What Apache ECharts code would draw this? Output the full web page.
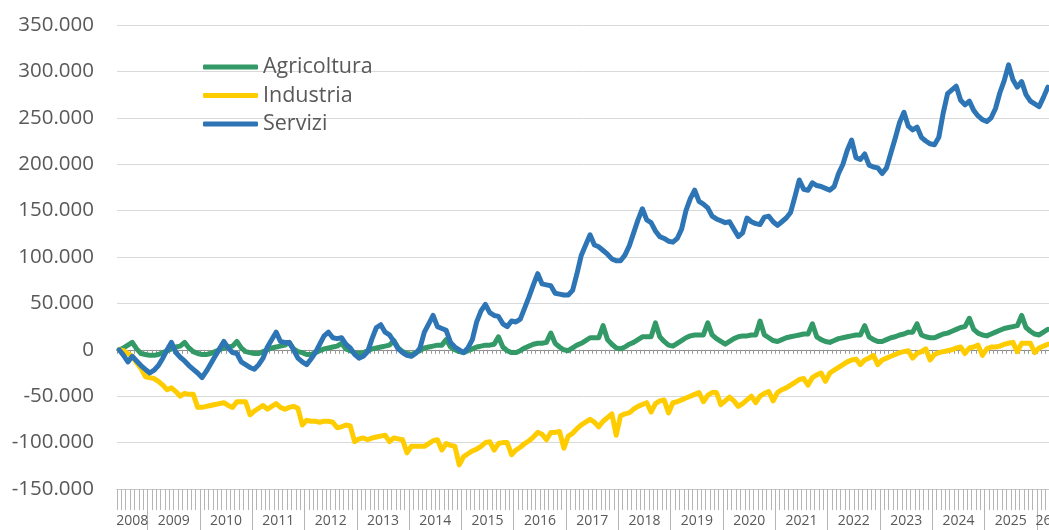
<!DOCTYPE html>
<html>
<head>
<meta charset="utf-8">
<script src="https://cdn.jsdelivr.net/npm/echarts@6/dist/echarts.min.js"></script>
<style>
  html, body { margin: 0; padding: 0; background: #fff; }
  #chart { width: 1049px; height: 530px; }
</style>
</head>
<body>
<div id="chart"></div>
<script>
// serie mensili (migliaia), da giugno 2008 a marzo 2026
const anni = ['2008', '2009', '2010', '2011', '2012', '2013', '2014', '2015', '2016',
  '2017', '2018', '2019', '2020', '2021', '2022', '2023', '2024', '2025', '2026']
const primoMese = 6
const ultimoMese = 3
// etichette degli anni sull'asse (2026 e' tagliato nel grafico)
const etichetteAnni = ['2008', '2009', '2010', '2011', '2012', '2013', '2014', '2015', '2016',
  '2017', '2018', '2019', '2020', '2021', '2022', '2023', '2024', '2025', '26']

const agricoltura = [
  0, 2, 5, 8, 1, -4, -5,
  -6, -6, -5, -3, -1, 1, 3, 4, 8, 2, -2, -4,
  -5, -5, -4, -2, 0, 2, 3, 4, 9, 2, -2, -3,
  -4, -4, -2, 0, 2, 3, 4, 5, 8, 1, -2, -3,
  -5, -5, -3, -1, 1, 2, 3, 4, 7, 1, -1, -3,
  -4, -3, -1, 1, 2, 3, 4, 5, 10, 2, -2, -4,
  -5, -3, -1, 2, 3, 4, 5, 5, 11, 3, 0, -2,
  -3, -1, 1, 3, 4, 5, 5, 6, 14, 3, -1, -3,
  -3, -1, 2, 4, 6, 7, 7, 8, 18, 7, 3, 0,
  -1, 2, 5, 7, 10, 13, 13, 13, 26, 11, 6, 2,
  1, 3, 6, 8, 11, 14, 14, 14, 29, 14, 9, 5,
  4, 7, 10, 13, 15, 16, 16, 16, 29, 16, 12, 9,
  6, 9, 12, 14, 15, 15, 16, 16, 31, 16, 13, 10,
  9, 11, 13, 14, 15, 16, 17, 17, 28, 14, 11, 9,
  8, 10, 12, 13, 14, 15, 16, 16, 26, 14, 11, 9,
  9, 11, 13, 14, 16, 17, 19, 19, 28, 16, 14, 13,
  13, 15, 17, 18, 20, 22, 24, 25, 34, 22, 18, 16,
  15, 17, 19, 21, 23, 24, 25, 26, 37, 24, 20, 17,
  16, 19, 22
]

const industria = [
  0, -1, -4, -7, -14, -20, -29,
  -30, -31, -34, -38, -43, -41, -45, -50, -47, -48, -48, -62,
  -62, -61, -60, -59, -58, -57, -60, -62, -56, -56, -56, -70,
  -66, -63, -60, -64, -61, -58, -62, -64, -62, -61, -63, -81,
  -76, -77, -77, -78, -77, -77, -78, -84, -83, -81, -82, -99,
  -96, -95, -97, -95, -94, -93, -92, -99, -95, -96, -97, -111,
  -104, -104, -104, -104, -101, -98, -97, -108, -101, -103, -104, -124,
  -115, -112, -109, -107, -104, -100, -99, -108, -101, -100, -100, -113,
  -108, -105, -101, -98, -94, -89, -91, -97, -89, -89, -88, -106,
  -93, -90, -85, -81, -78, -75, -78, -83, -77, -73, -69, -92,
  -71, -69, -68, -64, -61, -59, -57, -67, -58, -55, -54, -68,
  -57, -56, -54, -52, -50, -48, -46, -56, -49, -46, -46, -59,
  -55, -51, -55, -61, -58, -54, -50, -57, -50, -47, -45, -55,
  -46, -43, -41, -38, -35, -32, -31, -38, -30, -27, -25, -34,
  -25, -22, -19, -16, -13, -11, -10, -16, -11, -9, -6, -16,
  -11, -9, -7, -5, -3, -2, -1, -9, -4, -2, 1, -11,
  -5, -3, -2, -1, 0, 2, 3, -4, 2, 3, 5, -6,
  1, 3, 3, 4, 6, 7, 8, -2, 7, 7, 7, -3,
  2, 4, 6
]

const servizi = [
  0, -6, -13, -7, -12, -17, -21,
  -25, -22, -17, -9, 0, 8, -3, -8, -12, -17, -21, -25,
  -30, -23, -15, -7, 1, 9, 2, -3, -4, -13, -16, -19,
  -21, -16, -9, 3, 11, 19, 9, 8, 8, 0, -9, -13,
  -16, -10, -3, 6, 15, 19, 13, 12, 13, 6, 2, -5,
  -9, -7, -2, 12, 24, 27, 19, 16, 9, 1, -3, -6,
  -7, -4, 2, 19, 28, 37, 25, 23, 21, 8, 3, 0,
  -3, 2, 11, 30, 42, 49, 40, 37, 36, 28, 25, 31,
  30, 33, 45, 57, 70, 82, 71, 70, 69, 61, 60, 59,
  59, 64, 82, 102, 113, 124, 113, 111, 107, 103, 98, 96,
  96, 102, 112, 126, 140, 152, 140, 137, 128, 122, 120, 117,
  116, 120, 130, 150, 163, 172, 160, 157, 153, 144, 141, 139,
  137, 138, 130, 122, 126, 142, 138, 136, 135, 143, 144, 138,
  134, 138, 142, 148, 165, 183, 173, 172, 180, 177, 176, 174,
  172, 176, 190, 200, 215, 226, 207, 205, 211, 199, 197, 196,
  190, 196, 212, 228, 245, 256, 241, 237, 240, 229, 225, 222,
  221, 229, 255, 276, 280, 284, 269, 264, 268, 258, 252, 248,
  246, 250, 260, 277, 290, 307, 291, 283, 289, 275, 268, 265,
  262, 272, 283
]

// categorie mensili e posizione delle etichette degli anni
const mesi = []
const etichetta = {}
anni.forEach((anno, k) => {
  const da = k === 0 ? primoMese : 1
  const a = k === anni.length - 1 ? ultimoMese : 12
  const inizio = mesi.length
  for (let m = da; m <= a; m++) {
    mesi.push(anno + '-' + String(m).padStart(2, '0'))
  }
  const n = a - da + 1
  if (n === 12) {
    etichetta[inizio + 5] = '{p|' + etichetteAnni[k] + '}'
  } else {
    etichetta[inizio + Math.floor(n / 2)] = '{c|' + etichetteAnni[k] + '}'
  }
})

function formatoIt (v) {
  if (v === 0) return '0'
  const s = String(Math.abs(v * 1000)).replace(/\B(?=(\d{3})+(?!\d))/g, '.')
  return (v < 0 ? '-' : '') + s
}

const testo = '#595959'
const font = 'Open Sans'

const chart = echarts.init(document.getElementById('chart'))
chart.setOption({
  animation: false,
  textStyle: { fontFamily: font },
  grid: { left: 117, width: 933, top: 25, height: 464, containLabel: false, outerBoundsMode: 'none' },
  legend: {
    orient: 'vertical',
    left: 198,
    top: 51,
    icon: 'roundRect',
    itemWidth: 55,
    itemHeight: 5,
    itemGap: 6.5,
    textStyle: { fontSize: 21.5, color: testo, fontFamily: font },
    data: ['Agricoltura', 'Industria', 'Servizi']
  },
  xAxis: [{
    type: 'category',
    data: mesi,
    position: 'bottom',
    axisLine: { onZero: true, lineStyle: { color: '#8c8c8c', width: 1 } },
    axisTick: { show: true, interval: 0, length: 4, lineStyle: { color: '#9a9a9a' } },
    axisLabel: { show: false },
    splitLine: { show: false }
  }, {
    type: 'category',
    data: mesi,
    position: 'bottom',
    axisLine: { onZero: false, lineStyle: { color: '#c8c8c8' } },
    axisTick: { show: true, interval: 0, length: 21, lineStyle: { color: '#b5b5b5' } },
    axisLabel: {
      show: true,
      interval: (i) => etichetta[i] !== undefined,
      formatter: (v, i) => etichetta[i] || '',
      margin: 25,
      color: testo,
      fontSize: 14,
      fontFamily: font,
      rich: {
        p: { fontSize: 14, color: testo, fontFamily: font, padding: [0, 0, 0, 4.4] },
        c: { fontSize: 14, color: testo, fontFamily: font }
      }
    },
    splitLine: { show: false }
  }, {
    type: 'category',
    data: mesi,
    position: 'bottom',
    axisLine: { show: false, onZero: false },
    axisTick: {
      show: true,
      interval: (i, v) => v.slice(5) === '01',
      length: 41,
      lineStyle: { color: '#b5b5b5' }
    },
    axisLabel: { show: false },
    splitLine: { show: false }
  }],
  yAxis: {
    type: 'value',
    min: -150,
    max: 350,
    interval: 50,
    axisLine: { show: false },
    axisTick: { show: false },
    axisLabel: { margin: 23, color: testo, fontSize: 20.5, fontFamily: font, formatter: formatoIt },
    splitLine: { lineStyle: { color: '#d9d9d9', width: 1 } }
  },
  series: [{
    name: 'Agricoltura',
    type: 'line',
    data: agricoltura,
    symbol: 'none',
    color: '#339966',
    lineStyle: { width: 5, color: '#339966', cap: 'round', join: 'round' }
  }, {
    name: 'Industria',
    type: 'line',
    data: industria,
    symbol: 'none',
    color: '#ffcc00',
    lineStyle: { width: 5, color: '#ffcc00', cap: 'round', join: 'round' }
  }, {
    name: 'Servizi',
    type: 'line',
    data: servizi,
    symbol: 'none',
    color: '#2e75b6',
    lineStyle: { width: 5, color: '#2e75b6', cap: 'round', join: 'round' }
  }]
})
</script>
</body>
</html>
